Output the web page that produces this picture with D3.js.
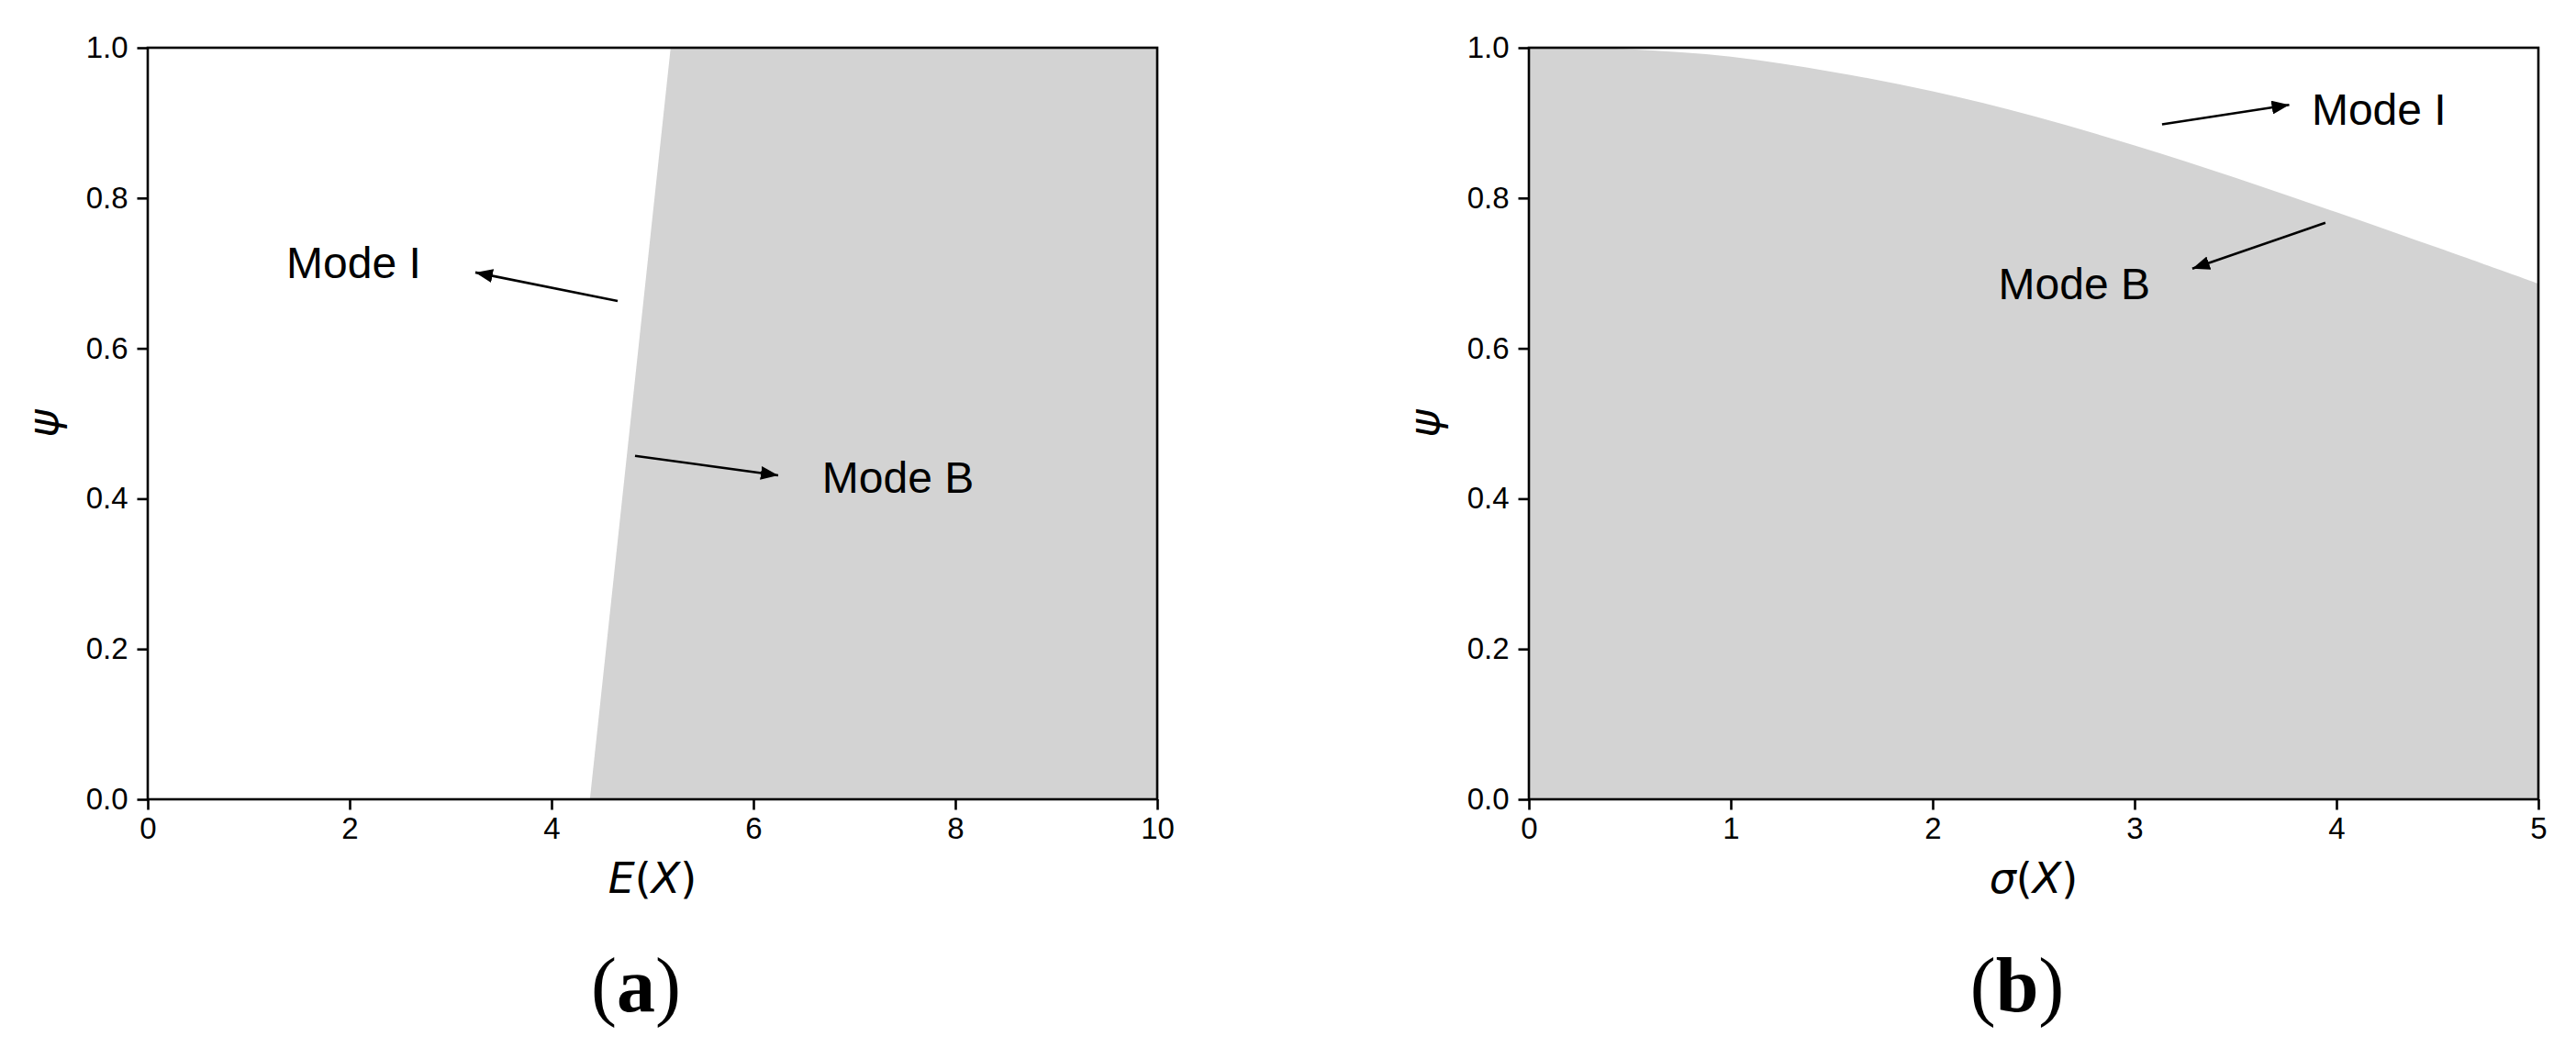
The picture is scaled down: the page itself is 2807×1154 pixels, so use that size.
<!DOCTYPE html>
<html>
<head>
<meta charset="utf-8">
<script src="https://cdn.jsdelivr.net/npm/d3@7"></script>
<style>
  html, body { margin: 0; padding: 0; background: #fff; }
  svg { display: block; }
</style>
</head>
<body>
<svg id="chart" width="2807" height="1154"></svg>
<script>
// ---------------- DATA ----------------
const psiTicks = [0, 0.2, 0.4, 0.6, 0.8, 1.0];
const exTicks = [0, 2, 4, 6, 8, 10];
const sigmaTicks = [0, 1, 2, 3, 4, 5];

// Panel (a): boundary between Mode I (left) and Mode B (right)
const boundaryPsiA = [0, 0.5, 1.0];
const boundaryEA   = [4.38, 4.78, 5.18];

// Panel (b): boundary between Mode B (below) and Mode I (above)
const sigmaB = [0, 0.5, 1, 1.5, 2, 2.5, 3, 3.5, 4, 4.5, 5];
const psiB   = [1.000, 0.998, 0.988, 0.968, 0.942, 0.909, 0.870, 0.827, 0.781, 0.734, 0.686];

// Annotations (data coordinates)
const labelsA = [
  { text: "Mode I", x: 1.373, y: 0.693, ax: 4.655, ay: 0.663, hx: 3.245, hy: 0.701 },
  { text: "Mode B", x: 6.68,  y: 0.408, ax: 4.827, ay: 0.457, hx: 6.245, hy: 0.431 }
];
const labelsB = [
  { text: "Mode I", x: 3.877, y: 0.897, ax: 3.136, ay: 0.898, hx: 3.766, hy: 0.924 },
  { text: "Mode B", x: 2.325, y: 0.665, ax: 3.945, ay: 0.767, hx: 3.286, hy: 0.706 }
];

// ---------------- LAYOUT ----------------
const svg = d3.select("#chart");
const plotTop = 52, plotBottom = 871;
const panels = [
  { left: 161, right: 1261, domain: [0, 10], ticks: exTicks, xlabel: "E", tag: "a", labels: labelsA },
  { left: 1666, right: 2766, domain: [0, 5], ticks: sigmaTicks, xlabel: "σ", tag: "b", labels: labelsB }
];
const fill = "#d3d3d3";
const tickFont = "'Liberation Sans', Arial, sans-serif";
const mathFont = "'DejaVu Sans', sans-serif";

const defs = svg.append("defs");
defs.append("marker")
  .attr("id", "ahead")
  .attr("markerUnits", "userSpaceOnUse")
  .attr("viewBox", "0 0 19 15")
  .attr("refX", 19).attr("refY", 7.5)
  .attr("markerWidth", 19).attr("markerHeight", 15)
  .attr("orient", "auto")
  .append("path").attr("d", "M0,0 L19,7.5 L0,15 Z").attr("fill", "#000");

panels.forEach((p, i) => {
  const x = d3.scaleLinear().domain(p.domain).range([p.left, p.right]);
  const y = d3.scaleLinear().domain([0, 1]).range([plotBottom, plotTop]);
  const g = svg.append("g");

  // Fill region
  if (i === 0) {
    const pts = boundaryPsiA.map((v, k) => ({ psi: v, e: boundaryEA[k] }));
    const area = d3.area()
      .y(d => y(d.psi))
      .x0(d => x(d.e))
      .x1(() => x(p.domain[1]));
    g.append("path").datum(pts).attr("d", area).attr("fill", fill);
  } else {
    const pts = sigmaB.map((s, k) => ({ s: s, psi: psiB[k] }));
    const area = d3.area()
      .x(d => x(d.s))
      .y0(y(0))
      .y1(d => y(d.psi))
      .curve(d3.curveCatmullRom);
    g.append("path").datum(pts).attr("d", area).attr("fill", fill);
  }

  // Axes
  const xAxis = d3.axisBottom(x).tickValues(p.ticks).tickSize(11.5).tickPadding(8)
    .tickFormat(d3.format("d"));
  const yAxis = d3.axisLeft(y).tickValues(psiTicks).tickSize(11.5).tickPadding(10)
    .tickFormat(d3.format(".1f"));

  const gx = g.append("g").attr("transform", `translate(0,${plotBottom})`).call(xAxis);
  const gy = g.append("g").attr("transform", `translate(${p.left},0)`).call(yAxis);
  [gx, gy].forEach(ax => {
    ax.select(".domain").remove();
    ax.selectAll(".tick line").attr("stroke", "#000").attr("stroke-width", 2.6);
    ax.selectAll(".tick text")
      .attr("fill", "#000")
      .style("font-family", tickFont)
      .style("font-size", "33px");
  });
  gx.selectAll(".tick text").attr("dy", "0.71em");

  // Frame
  g.append("rect")
    .attr("x", p.left).attr("y", plotTop)
    .attr("width", p.right - p.left).attr("height", plotBottom - plotTop)
    .attr("fill", "none").attr("stroke", "#000").attr("stroke-width", 2.6);

  // X label
  const xl = g.append("text")
    .attr("x", (p.left + p.right) / 2).attr("y", 973)
    .attr("text-anchor", "middle")
    .style("font-family", mathFont).style("font-size", "46px").attr("fill", "#000");
  xl.append("tspan").style("font-style", "italic").text(p.xlabel);
  xl.append("tspan").text("(");
  xl.append("tspan").style("font-style", "italic").text("X");
  xl.append("tspan").text(")");

  // Y label
  g.append("text")
    .attr("transform", `translate(${p.left - 98},${(plotTop + plotBottom) / 2}) rotate(-90)`)
    .attr("text-anchor", "middle")
    .style("font-family", mathFont).style("font-size", "46px")
    .style("font-style", "italic").attr("fill", "#000")
    .text("ψ");

  // Annotations
  p.labels.forEach(l => {
    g.append("line")
      .attr("x1", x(l.ax)).attr("y1", y(l.ay))
      .attr("x2", x(l.hx)).attr("y2", y(l.hy))
      .attr("stroke", "#000").attr("stroke-width", 2.6)
      .attr("marker-end", "url(#ahead)");
    g.append("text")
      .attr("x", x(l.x)).attr("y", y(l.y))
      .style("font-family", tickFont).style("font-size", "48px").attr("fill", "#000")
      .text(l.text);
  });

  // Panel tag
  const t = svg.append("text")
    .attr("x", (p.left + p.right) / 2 - 18).attr("y", 1102)
    .attr("text-anchor", "middle")
    .style("font-family", "'Liberation Serif', 'Times New Roman', serif")
    .style("font-size", "84px").attr("fill", "#000");
  t.append("tspan").text("(");
  t.append("tspan").style("font-weight", "bold").text(p.tag);
  t.append("tspan").text(")");
});
</script>
</body>
</html>
